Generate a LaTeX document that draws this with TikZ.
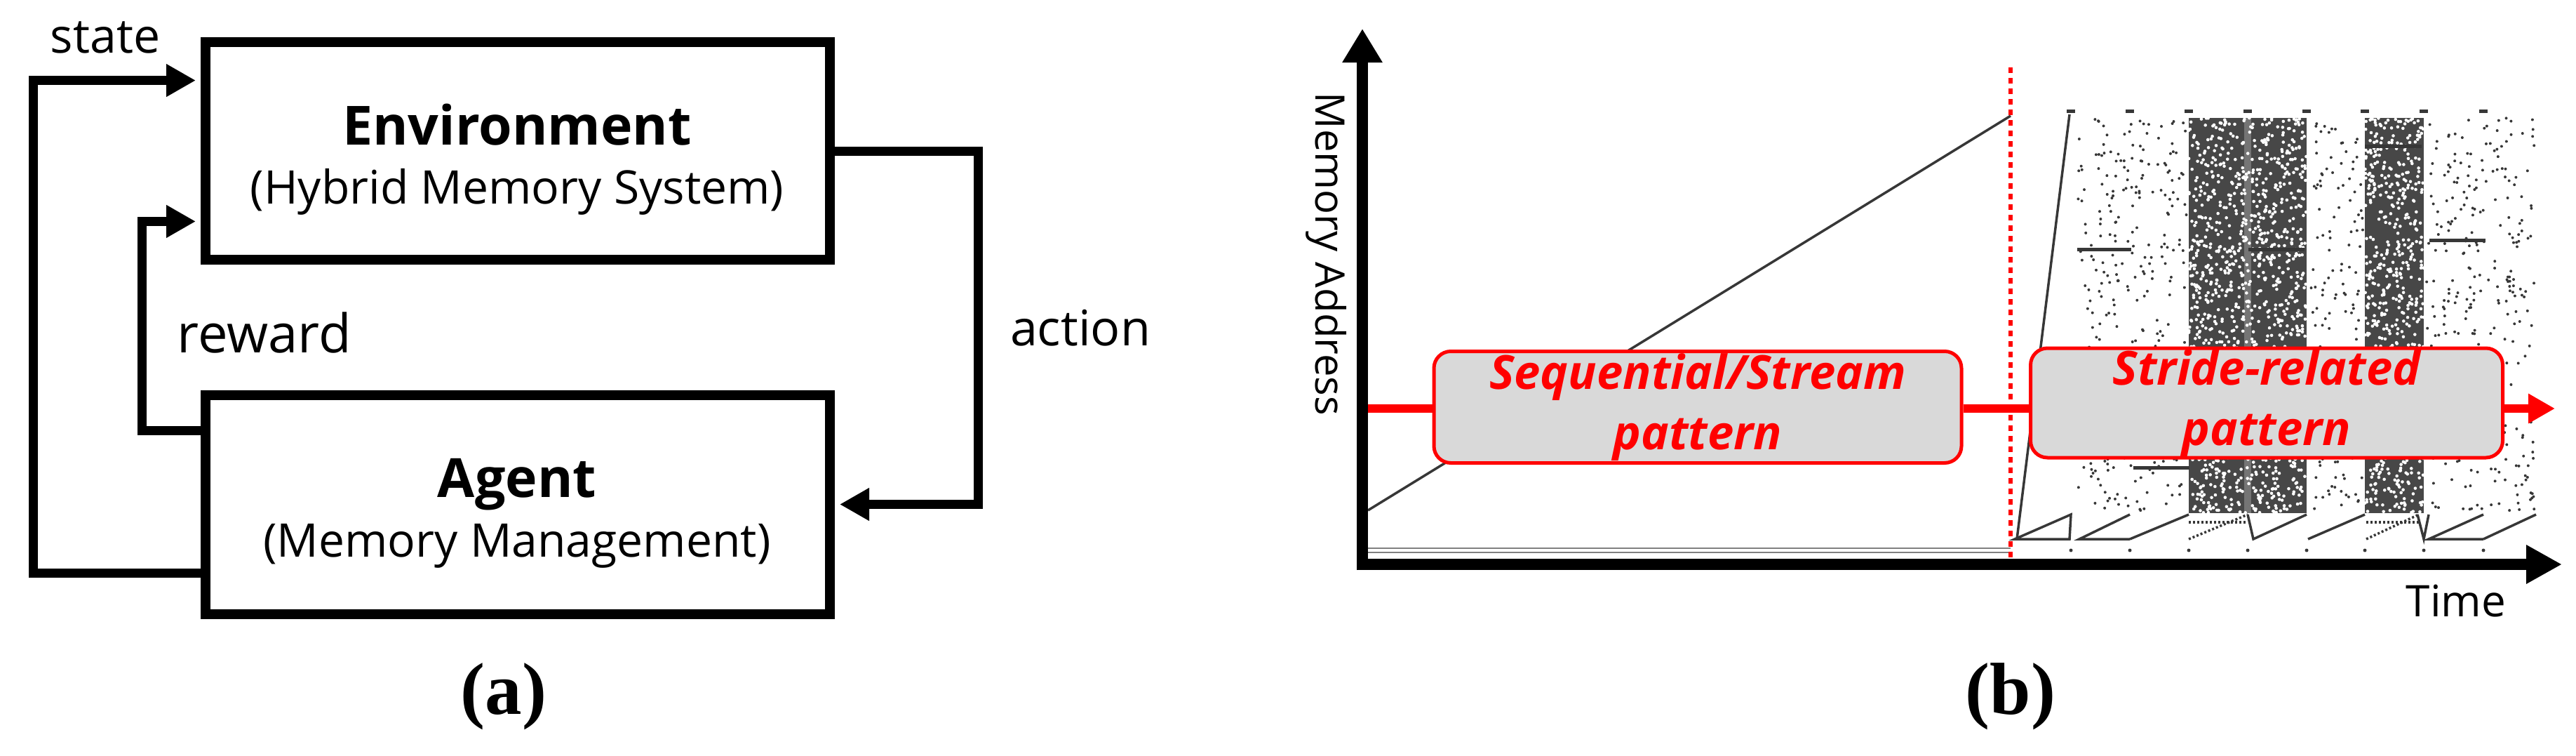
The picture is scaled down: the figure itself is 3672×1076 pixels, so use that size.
\documentclass[tikz,border=0pt]{standalone}
\usepackage{fontspec}
\setmainfont{Open Sans}
\newfontfamily\capfont{Liberation Serif}
\usetikzlibrary{arrows.meta,calc}
\definecolor{pred}{RGB}{255,0,0}
\definecolor{pfill}{RGB}{217,217,217}
\definecolor{dgray}{RGB}{55,55,55}
\newcommand\myfs[2]{\fontsize{#1}{#2}\selectfont}
\begin{document}
\begin{tikzpicture}[x=1pt,y=-1pt,
  box/.style={draw=black, line width=14pt, minimum width=890pt, inner sep=0pt},
  conn/.style={line width=13pt, line join=miter, -{Triangle[length=42pt,width=44pt]}, shorten >=7pt},
  txt/.style={inner sep=0pt, anchor=base},
  patbox/.style={draw=pred, line width=5pt, fill=pfill, rounded corners=24pt, text=pred, align=center, inner sep=0pt, font=\myfs{67}{86}\bfseries\itshape},
  axisline/.style={line width=16pt},
  dot/.style={fill=dgray},
  thin/.style={draw=dgray, line width=3.5pt}
]
\useasboundingbox (0,0) rectangle (3672,1076);

% ---------------- (a) ----------------
\node[box, minimum height=310pt] (env) at (738,215) {};
\node[box, minimum height=312pt] (agent) at (738,718.5) {};
\node[txt, font=\myfs{77}{90}\bfseries] (envt) at (737,206) {Environment};
\node[txt, font=\myfs{66}{80}] (envs) at (737,290) {(Hybrid Memory System)};
\node[txt, font=\myfs{77}{90}\bfseries] (agt) at (737,708) {Agent};
\node[txt, font=\myfs{66}{80}] (ags) at (737,793) {(Memory Management)};

\coordinate (stA) at ($(agent.north west)!0.80!(agent.south west)$);
\coordinate (stB) at ($(env.north west)!0.19!(env.south west)$);
\coordinate (stX) at (47,0);
\draw[conn] (stA) -- (stA -| stX) -- (stB -| stX) -- (stB);

\coordinate (rwA) at ($(agent.north west)!0.179!(agent.south west)$);
\coordinate (rwB) at ($(env.north west)!0.81!(env.south west)$);
\coordinate (rwX) at (202,0);
\draw[conn] (rwA) -- (rwA -| rwX) -- (rwB -| rwX) -- (rwB);

\coordinate (acX) at (1394,0);
\draw[conn] (env.east) -- (env.east -| acX) -- (agent.east -| acX) -- (agent.east);

\node[txt, font=\myfs{68}{80}] (lstate) at (150,75) {state};
\node[txt, font=\myfs{76}{80}] (lreward) at (377,502) {reward};
\node[txt, font=\myfs{70}{80}] (laction) at (1540,492) {action};
\node[inner sep=0pt, font=\capfont\bfseries\myfs{105}{110}] (capa) at (718,992) {(a)};

% ---------------- (b) ----------------
% scatter region
\pgfmathsetseed{4242}
\fill[black!72] (3120,168) rectangle (3288,731);
\fill[black!72] (3371,168) rectangle (3455,731);
\foreach \i in {1,...,1300} \fill[white] ({3120+168*rnd},{168+563*rnd}) circle (2.3pt);
\foreach \i in {1,...,650} \fill[white] ({3371+84*rnd},{168+563*rnd}) circle (2.3pt);
\fill[white, opacity=0.25] (3199,168) rectangle (3209,731);
\foreach \i in {1,...,320} \fill[dot] ({2962+155*rnd},{168+560*rnd}) circle (2pt);
\foreach \i in {1,...,150} \fill[dot] ({3292+76*rnd},{168+560*rnd}) circle (2pt);
\foreach \i in {1,...,320} \fill[dot] ({3458+155*rnd},{168+560*rnd}) circle (2pt);
\foreach \x in {2952,3036,3120,3204,3288,3371,3455,3540} {
  \fill[dgray] (\x-6,156) rectangle (\x+6,161);
  \fill[dgray] (\x,784) circle (2.5pt);
}
% short horizontal strokes
\draw[dgray, line width=5pt] (2961,355) -- (3038,355);
\draw[dgray, line width=5pt] (3205,355) -- (3285,355);
\draw[dgray, line width=5pt] (3463,342) -- (3543,342);
\draw[dgray, line width=5pt] (3041,666) -- (3121,666);
\draw[dgray, line width=5pt] (3371,208) -- (3452,208);
% sawtooth
\draw[thin] (2872,768) -- (2952,733) -- (2950,768) -- cycle;
\draw[thin] (3036,768) -- (2964,768) -- (3036,733);
\draw[thin] (3036,768) -- (3120,733);
\draw[thin, dashed] (3120,768) -- (3204,733);
\draw[thin, dashed] (3120,744) -- (3204,744);
\draw[thin] (3204,733) -- (3212,768) -- (3288,733);
\draw[thin] (3290,768) -- (3371,733);
\draw[thin, dashed] (3373,768) -- (3448,733);
\draw[thin, dashed] (3373,744) -- (3448,744);
\draw[thin] (3446,733) -- (3455,768) -- (3462,733);
\draw[thin] (3540,768) -- (3462,768) -- (3540,733);
\draw[thin] (3540,768) -- (3615,733);
% steep and sequential lines
\draw[thin] (2875,768) -- (2950,163);
\draw[thin] (1950,727) -- (2866,165);
\draw[gray, line width=2pt] (1950,781) -- (2866,781);
\draw[gray, line width=2pt] (1950,787) -- (2866,787);

% axes
\coordinate (O) at (1942,804);
\coordinate (ytop) at (1942,41);
\coordinate (xend) at (3652,804);
\draw[axisline, -{Triangle[length=48pt,width=54pt]}] (1942,812) -- (ytop);
\draw[axisline, -{Triangle[length=51pt,width=52pt]}] (1934,804) -- (xend);

% pattern boxes and red arrow
\node[patbox, minimum width=752pt, minimum height=159pt] (seq) at (2420,580) {Sequential/Stream\\pattern};
\node[patbox, minimum width=673pt, minimum height=156pt] (stride) at (3231,574) {Stride-related\\pattern};
\coordinate (rs) at (1950,582);
\coordinate (re) at (3642,582);
\draw[pred, line width=12pt] (rs) -- (rs -| seq.west);
\draw[pred, line width=12pt] (rs -| seq.east) -- (rs -| stride.west);
\draw[pred, line width=12pt, -{Triangle[length=38pt,width=40pt]}] (rs -| stride.east) -- (re);

% dotted separator
\draw[pred, line width=6pt, dash pattern=on 8pt off 7pt] (2866,96) -- (2866,798);

\node[inner sep=0pt, anchor=north, rotate=-90, font=\myfs{58}{70}] (ylab) at (1920,362) {Memory Address};
\node[txt, font=\myfs{62}{70}] (xlab) at (3501,878) {Time};
\node[inner sep=0pt, font=\capfont\bfseries\myfs{105}{110}] (capb) at (2866,992) {(b)};
\end{tikzpicture}
\end{document}
